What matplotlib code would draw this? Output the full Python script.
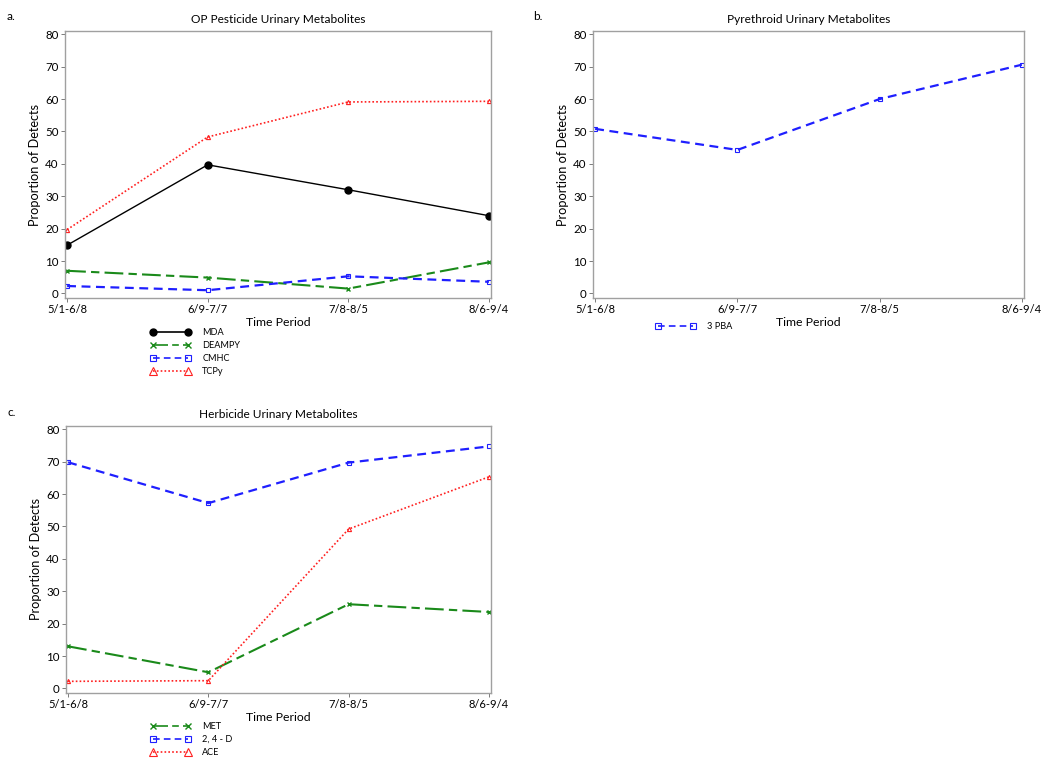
import numpy as np
import matplotlib
matplotlib.use("Agg")
import matplotlib.pyplot as plt

plt.rcParams['font.family'] = ['Lato', 'DejaVu Sans']

# data
periods = ["5/1-6/8", "6/9-7/7", "7/8-8/5", "8/6-9/4"]

mda = [14.9, 39.7, 32.0, 24.0]
deampy = [7.0, 4.9, 1.5, 9.6]
cmhc = [2.3, 1.0, 5.3, 3.6]
tcpy = [19.7, 48.3, 59.1, 59.3]

pba3 = [50.8, 44.3, 60.0, 70.6]

met = [13.0, 5.0, 26.0, 23.6]
d24 = [69.8, 57.2, 69.7, 74.7]
ace = [2.2, 2.4, 49.2, 65.3]

W, H = 1050, 767
fig = plt.figure(figsize=(W / 100, H / 100), dpi=100)


def px_axes(x0, y0, x1, y1):
    # pixel box (left, top, right, bottom) -> figure axes
    return fig.add_axes([x0 / W, 1 - y1 / H, (x1 - x0) / W, (y1 - y0) / H])


styles = {
    "MDA": dict(color="black", ls="-", lw=1.0, marker="o", ms=5, mfc="black"),
    "DEAMPY": dict(color="#1a8a1a", ls=(0, (9, 2.5, 4, 2.5)), lw=1.5, marker="x", ms=3),
    "CMHC": dict(color="#1f1fff", ls=(0, (4, 2.5)), lw=1.6, marker="s", ms=3, mfc="none", mew=0.8),
    "TCPy": dict(color="#ff2020", ls=(0, (1, 1.3)), lw=1.2, marker="^", ms=3, mfc="none", mew=0.8),
}


def style_axes(ax, title):
    x = np.arange(len(periods))
    ax.set_xlim(-0.015, 3.015)
    ax.set_ylim(-1.4, 81)
    ax.set_xticks(x)
    ax.set_xticklabels(periods, fontsize=8)
    ax.set_yticks(np.arange(0, 81, 10))
    ax.tick_params(axis='y', labelsize=8.3, length=3, width=0.6, color="#666666", pad=1.5)
    ax.tick_params(axis='x', length=3, width=0.6, color="#666666", pad=1.5)
    for s in ax.spines.values():
        s.set_color("#a0a0a0")
        s.set_linewidth(1.0)
    ax.set_title(title, fontsize=8.6, pad=6)
    ax.set_xlabel("Time Period", fontsize=8.8, labelpad=1)
    ax.set_ylabel("Proportion of Detects", fontsize=9.2, labelpad=3)


def add_legend(ax, x, y):
    leg = ax.legend(loc="upper left", bbox_to_anchor=(x / W, 1 - y / H),
                    bbox_transform=fig.transFigure, frameon=False, fontsize=6.6,
                    numpoints=2, handlelength=4.4, handletextpad=1.3,
                    labelspacing=0.45, borderpad=0, borderaxespad=0)
    for h in leg.legend_handles:
        if h.get_marker() == "^":
            h.set_markersize(6)
        elif h.get_marker() in ("s", "x"):
            h.set_markersize(4.5)
        h.set_linewidth(1.2)
    return leg


x = np.arange(len(periods))

# panel a
ax_a = px_axes(65, 31, 491, 298)
ax_a.plot(x, mda, label="MDA", **styles["MDA"])
ax_a.plot(x, deampy, label="DEAMPY", **styles["DEAMPY"])
ax_a.plot(x, cmhc, label="CMHC", **styles["CMHC"])
ax_a.plot(x, tcpy, label="TCPy", **styles["TCPy"])
style_axes(ax_a, "OP Pesticide Urinary Metabolites")
add_legend(ax_a, 150, 328)

# panel b
ax_b = px_axes(593, 31, 1024, 298)
ax_b.plot(x, pba3, label="3 PBA", **styles["CMHC"])
style_axes(ax_b, "Pyrethroid Urinary Metabolites")
add_legend(ax_b, 655, 322)

# panel c
ax_c = px_axes(66, 426, 491, 693)
ax_c.plot(x, met, label="MET", **styles["DEAMPY"])
ax_c.plot(x, d24, label="2, 4 - D", **styles["CMHC"])
ax_c.plot(x, ace, label="ACE", **styles["TCPy"])
style_axes(ax_c, "Herbicide Urinary Metabolites")
add_legend(ax_c, 150, 722)

fig.text(7 / W, 1 - 16 / H, "a.", fontsize=8.5, va="center")
fig.text(533 / W, 1 - 16 / H, "b.", fontsize=8.5, va="center")
fig.text(7 / W, 1 - 413 / H, "c.", fontsize=8.5, va="center")

fig.savefig("out.png", dpi=100)
